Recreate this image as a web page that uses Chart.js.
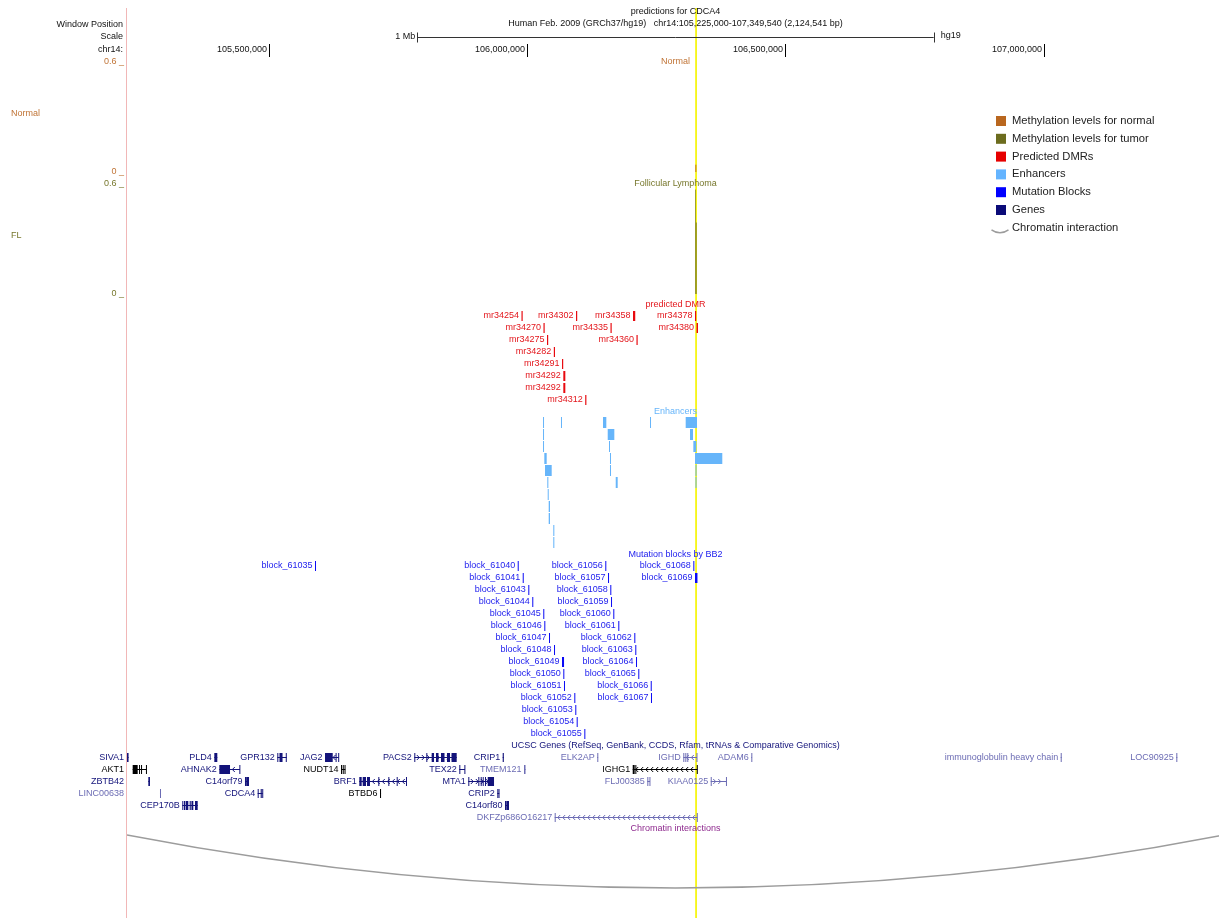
<!DOCTYPE html>
<html>
<head>
<meta charset="utf-8">
<title>predictions for CDCA4</title>
<script src="https://cdn.jsdelivr.net/npm/chart.js@4.4.1/dist/chart.umd.min.js"></script>
<style>
  html, body { margin: 0; padding: 0; background: #ffffff; overflow: hidden; }
  canvas { display: block; }
</style>
</head>
<body>
<canvas id="browser" width="1224" height="918"></canvas>
<script>
// ---- genomic window (chr14, hg19) ----
const WINDOW_START = 105225000;
const WINDOW_END = 107349540;
const rulerTicks = [105500000, 106000000, 106500000, 107000000];
const highlightRegion = [106325300, 106328900];

// ---- methylation levels (beta values, 0..0.6 view range) ----
const normalStarts = [106325800];
const normalEnds = [106327600];
const normalBeta = [0.04];
const flStarts = [106325700, 106326700];
const flEnds = [106326900, 106328100];
const flBeta = [0.57, 0.39];

// ---- predicted DMRs ----
const dmrNames = ['mr34254', 'mr34302', 'mr34358', 'mr34378', 'mr34270', 'mr34335', 'mr34380',
  'mr34275', 'mr34360', 'mr34282', 'mr34291', 'mr34292', 'mr34292', 'mr34312'];
const dmrRows = [0, 0, 0, 0, 1, 1, 1, 2, 2, 3, 4, 5, 6, 7];
const dmrStarts = [105989000, 106094600, 106205000, 106325000, 106031600, 106161400, 106328000,
  106038400, 106211700, 106051600, 106067500, 106070000, 106070000, 106112400];
const dmrEnds = [105991300, 106096900, 106209300, 106327300, 106033900, 106163700, 106330900,
  106040700, 106214000, 106053900, 106069800, 106073900, 106073900, 106114700];

// ---- enhancers ----
const enhRows = [0, 0, 0, 0, 0, 1, 1, 1, 2, 2, 2, 3, 3, 3, 4, 4, 4, 5, 5, 5, 6, 7, 8, 9, 10];
const enhStarts = [106030700, 106065500, 106146900, 106237900, 106307000,
  106030700, 106156000, 106315400,
  106030700, 106158500, 106321800,
  106033200, 106160400, 106325000,
  106034500, 106160400, 106326000,
  106039000, 106171500, 106326000,
  106039800, 106041700, 106041700, 106050600, 106050600];
const enhEnds = [106031900, 106066700, 106153300, 106239100, 106328900,
  106031900, 106168800, 106321200,
  106031900, 106159700, 106327600,
  106037800, 106161600, 106377900,
  106047500, 106161600, 106327200,
  106041000, 106175300, 106327200,
  106041100, 106044200, 106044200, 106052600, 106052600];

// ---- mutation blocks (BB2) ----
const mutNames = ['block_61035', 'block_61040', 'block_61056', 'block_61068',
  'block_61041', 'block_61057', 'block_61069',
  'block_61043', 'block_61058', 'block_61044', 'block_61059',
  'block_61045', 'block_61060', 'block_61046', 'block_61061',
  'block_61047', 'block_61062', 'block_61048', 'block_61063',
  'block_61049', 'block_61064', 'block_61050', 'block_61065',
  'block_61051', 'block_61066', 'block_61052', 'block_61067',
  'block_61053', 'block_61054', 'block_61055'];
const mutRows = [0, 0, 0, 0, 1, 1, 1, 2, 2, 3, 3, 4, 4, 5, 5, 6, 6, 7, 7, 8, 8, 9, 9, 10, 10, 11, 11, 12, 13, 14];
const mutStarts = [105589100, 105981700, 106151300, 106321800,
  105991400, 106156600, 106325000,
  106002200, 106161000, 106009900, 106162400,
  106031200, 106166800, 106033200, 106176500,
  106042300, 106207500, 106052000, 106209400,
  106067500, 106210800, 106070000, 106215200,
  106071300, 106239300, 106091300, 106239800,
  106093200, 106095900, 106110700];
const mutEnds = [105591000, 105983600, 106153200, 106323700,
  105993300, 106158500, 106329800,
  106004100, 106162900, 106011800, 106164300,
  106033100, 106168700, 106035100, 106178400,
  106044200, 106209400, 106053900, 106211300,
  106071400, 106212700, 106071900, 106217100,
  106073200, 106241200, 106093200, 106241700,
  106095100, 106097800, 106112600];

// ---- UCSC genes: status 'pdb' (black), 'refseq' (dark), 'other' (light) ----
const genes = [
  { name: 'SIVA1', row: 0, status: 'refseq', strand: '', start: 105225000, end: 105228000, exons: [[105225000, 105228000]] },
  { name: 'PLD4', row: 0, status: 'refseq', strand: '', start: 105394100, end: 105399900, exons: [[105394100, 105399900]] },
  { name: 'GPR132', row: 0, status: 'refseq', strand: '', start: 105516100, end: 105534300, exons: [[105516100, 105517500], [105520300, 105526200], [105532500, 105534300]] },
  { name: 'JAG2', row: 0, status: 'refseq', strand: '-', start: 105608500, end: 105635000, exons: [[105608500, 105623400], [105629000, 105630500], [105634000, 105635000]] },
  { name: 'PACS2', row: 0, status: 'refseq', strand: '+', start: 105781400, end: 105863500, exons: [[105781400, 105782400], [105804700, 105806000], [105815100, 105819600], [105823400, 105828300], [105833100, 105839900], [105844700, 105850600], [105853500, 105863500]] },
  { name: 'CRIP1', row: 0, status: 'refseq', strand: '', start: 105952600, end: 105954800, exons: [[105952600, 105954800]] },
  { name: 'ELK2AP', row: 0, status: 'other', strand: '', start: 106135800, end: 106137400, exons: [[106135800, 106137400]] },
  { name: 'IGHD', row: 0, status: 'other', strand: '-', start: 106302400, end: 106328900, exons: [[106302400, 106303600], [106306300, 106307500], [106310100, 106311300], [106327900, 106328900]] },
  { name: 'ADAM6', row: 0, status: 'other', strand: '', start: 106434100, end: 106435600, exons: [[106434100, 106435600]] },
  { name: 'immunoglobulin heavy chain', row: 0, status: 'other', strand: '', start: 107033300, end: 107035200, exons: [[107033300, 107035200]] },
  { name: 'LOC90925', row: 0, status: 'other', strand: '', start: 107257200, end: 107259100, exons: [[107257200, 107259100]] },

  { name: 'AKT1', row: 1, status: 'pdb', strand: '', start: 105236000, end: 105263200, exons: [[105236000, 105245700], [105248300, 105250200], [105252200, 105254100], [105261700, 105263200]] },
  { name: 'AHNAK2', row: 1, status: 'refseq', strand: '-', start: 105403800, end: 105443800, exons: [[105403800, 105424500], [105442600, 105443800]] },
  { name: 'NUDT14', row: 1, status: 'pdb', strand: '', start: 105639500, end: 105647800, exons: [[105639500, 105641000], [105642800, 105643900], [105646300, 105647800]] },
  { name: 'TEX22', row: 1, status: 'refseq', strand: '+', start: 105868600, end: 105879600, exons: [[105868600, 105869800], [105878400, 105879600]] },
  { name: 'TMEM121', row: 1, status: 'other', strand: '', start: 105993900, end: 105996800, exons: [[105993900, 105996800]] },
  { name: 'IGHG1', row: 1, status: 'pdb', strand: '-', start: 106204400, end: 106329500, exons: [[106204400, 106208200], [106209500, 106210800], [106328500, 106329500]] },

  { name: 'ZBTB42', row: 2, status: 'refseq', strand: '', start: 105266300, end: 105269500, exons: [[105266300, 105269500]] },
  { name: 'C14orf79', row: 2, status: 'refseq', strand: '', start: 105453500, end: 105461300, exons: [[105453500, 105454500], [105455800, 105461300]] },
  { name: 'BRF1', row: 2, status: 'refseq', strand: '-', start: 105674900, end: 105766700, exons: [[105674900, 105679500], [105681500, 105687900], [105689800, 105695600], [105711700, 105713200], [105731100, 105732600], [105747300, 105748800], [105765300, 105766700]] },
  { name: 'MTA1', row: 2, status: 'refseq', strand: '+', start: 105886000, end: 105935800, exons: [[105886000, 105887000], [105905400, 105906500], [105910000, 105911100], [105913900, 105915000], [105918300, 105919400], [105923600, 105935800]] },
  { name: 'FLJ00385', row: 2, status: 'other', strand: '', start: 106232700, end: 106237900, exons: [[106232700, 106233800], [106236800, 106237900]] },
  { name: 'KIAA0125', row: 2, status: 'other', strand: '+', start: 106355500, end: 106386400, exons: [[106355500, 106357000], [106385000, 106386400]] },

  { name: 'LINC00638', row: 3, status: 'other', strand: '', start: 105288900, end: 105290500, exons: [[105288900, 105290500]] },
  { name: 'CDCA4', row: 3, status: 'refseq', strand: '-', start: 105478100, end: 105487800, exons: [[105478100, 105479100], [105483900, 105486000], [105486900, 105487800]] },
  { name: 'BTBD6', row: 3, status: 'pdb', strand: '', start: 105715000, end: 105717000, exons: [[105715000, 105717000]] },
  { name: 'CRIP2', row: 3, status: 'refseq', strand: '', start: 105942200, end: 105946000, exons: [[105942200, 105943100], [105944500, 105946000]] },

  { name: 'CEP170B', row: 4, status: 'refseq', strand: '', start: 105332100, end: 105361900, exons: [[105332100, 105333200], [105335400, 105337500], [105338600, 105343700], [105346400, 105348500], [105349800, 105353400], [105356700, 105361900]] },
  { name: 'C14orf80', row: 4, status: 'refseq', strand: '', start: 105957100, end: 105964800, exons: [[105957100, 105958000], [105959500, 105964800]] },

  { name: 'DKFZp686O16217', row: 5, status: 'other', strand: '-', start: 106053300, end: 106329500, exons: [[106053300, 106054300], [106328500, 106329500]] }
];

// ---- chromatin interaction (anchor midpoints) ----
const interactionStarts = [105225000];
const interactionEnds = [107349540];

// ---- legend ----
const legendLabels = ['Methylation levels for normal', 'Methylation levels for tumor', 'Predicted DMRs',
  'Enhancers', 'Mutation Blocks', 'Genes', 'Chromatin interaction'];

// ---------------------------------------------------------------------------
// drawing styles and vertical layout (y axis runs in layout units, top = 0)
const COLORS = {
  normal: '#B9671F', normalText: '#C07436',
  tumor: '#6C6C1E', tumorText: '#77772C',
  dmr: '#E8090F', dmrText: '#E3161C',
  enh: '#66B5FA',
  mut: '#0A0AF5', mutText: '#2222EE',
  pdb: '#000000', refseq: '#13137A', other: '#6C6CB4',
  chrom: '#8E2A8E', arc: '#9C9C9C',
  sideLine: '#F1B7B7', highlight: '#F6F61C'
};
const legendColors = [COLORS.normal, COLORS.tumor, '#E60000', '#64B4FF', '#0000FF', '#0B0B78', null];
const FONT = '9px "Liberation Sans", Arial, Helvetica, sans-serif';
const LEGEND_FONT = '11.2px "Liberation Sans", Arial, Helvetica, sans-serif';
const ROW_H = 12;
const LAYOUT = {
  frameTop: 8, frameBottom: 918, labelRight: 124,
  normal: { top: 62, bottom: 172, labelY: 114 },
  fl: { top: 184, bottom: 294, labelY: 236 },
  dmr: { titleY: 305, row0: 316, barH: 10 },
  enh: { titleY: 412, row0: 422.5, barH: 11 },
  mut: { titleY: 555, row0: 566, barH: 10 },
  genes: { titleY: 746, row0: 757, exonH: 9 },
  chrom: { titleY: 829, arcY: 835, depth: 53 },
  methMax: 0.6
};

function floating(starts, ends, rows, row0) {
  return starts.map((s, i) => ({ x: [s, ends[i]], y: row0 + rows[i] * ROW_H }));
}

function text(ctx, s, px, py, color, align, font) {
  ctx.font = font || FONT;
  ctx.fillStyle = color;
  ctx.textAlign = align || 'left';
  ctx.textBaseline = 'middle';
  ctx.fillText(s, px, py);
}

// item label to the left of its feature; falls back to the label margin
function featureLabel(ctx, left, s, startPx, py, color) {
  ctx.font = FONT;
  const w = ctx.measureText(s).width;
  let right = startPx - 2.5;
  if (right - w < left) right = LAYOUT.labelRight;
  text(ctx, s, right, py, color, 'right');
}

function drawMethylation(ctx, xs, ys, starts, ends, beta, track, color) {
  ctx.fillStyle = color;
  starts.forEach((s, i) => {
    const a = xs.getPixelForValue(s), b = xs.getPixelForValue(ends[i]);
    const yv = track.bottom - (beta[i] / LAYOUT.methMax) * (track.bottom - track.top);
    const top = ys.getPixelForValue(yv), base = ys.getPixelForValue(track.bottom);
    ctx.fillRect(a, top, Math.max(0.6, b - a), base - top);
  });
}

function drawGene(ctx, xs, ys, g) {
  const col = COLORS[g.status];
  const x0 = xs.getPixelForValue(g.start), x1 = xs.getPixelForValue(g.end);
  const cy = Math.round(ys.getPixelForValue(LAYOUT.genes.row0 + g.row * ROW_H)) + 0.5;
  ctx.strokeStyle = col; ctx.fillStyle = col; ctx.lineWidth = 1;
  ctx.beginPath(); ctx.moveTo(x0, cy); ctx.lineTo(x1, cy); ctx.stroke();
  if (g.strand) {
    const dir = g.strand === '+' ? 1 : -1;
    ctx.beginPath();
    for (let p = x0 + 4; p < x1 - 2; p += 5) {
      ctx.moveTo(p - dir * 1.5, cy - 2.5);
      ctx.lineTo(p + dir * 1, cy);
      ctx.lineTo(p - dir * 1.5, cy + 2.5);
    }
    ctx.stroke();
  }
  const h = LAYOUT.genes.exonH;
  g.exons.forEach(([s, e]) => {
    const a = xs.getPixelForValue(s), b = xs.getPixelForValue(e);
    ctx.fillRect(a, cy - h / 2, Math.max(1, b - a), h);
  });
  featureLabel(ctx, xs.left, g.name, x0, cy, col);
}

const browserTracks = {
  id: 'browserTracks',
  beforeDatasetsDraw(chart) {
    const { ctx, chartArea, scales: { x: xs, y: ys } } = chart;
    ctx.save();
    const top = ys.getPixelForValue(LAYOUT.frameTop), bottom = ys.getPixelForValue(LAYOUT.frameBottom);
    // highlighted locus
    const h0 = xs.getPixelForValue(highlightRegion[0]), h1 = xs.getPixelForValue(highlightRegion[1]);
    ctx.fillStyle = COLORS.highlight;
    ctx.fillRect(h0, top, h1 - h0, bottom - top);
    // divider between label margin and data area
    ctx.fillStyle = COLORS.sideLine;
    ctx.fillRect(chartArea.left - 1, top, 1, bottom - top);
    // methylation wiggle tracks
    drawMethylation(ctx, xs, ys, normalStarts, normalEnds, normalBeta, LAYOUT.normal, COLORS.normal);
    drawMethylation(ctx, xs, ys, flStarts, flEnds, flBeta, LAYOUT.fl, COLORS.tumor);
    ctx.restore();
  },
  afterDatasetsDraw(chart) {
    const { ctx, chartArea, scales: { x: xs, y: ys } } = chart;
    const cx = (chartArea.left + chartArea.right) / 2;
    const Y = v => ys.getPixelForValue(v);
    ctx.save();

    // header
    text(ctx, 'predictions for CDCA4', cx, Y(12), '#111', 'center');
    text(ctx, 'Human Feb. 2009 (GRCh37/hg19)   chr14:105,225,000-107,349,540 (2,124,541 bp)', cx, Y(24), '#111', 'center');
    text(ctx, 'Window Position', LAYOUT.labelRight - 1, Y(25), '#111', 'right');
    text(ctx, 'Scale', LAYOUT.labelRight - 1, Y(37), '#111', 'right');
    text(ctx, 'chr14:', LAYOUT.labelRight - 1, Y(50), '#111', 'right');

    // 1 Mb scale bar centred on the window
    const mid = (WINDOW_START + WINDOW_END) / 2;
    const b0 = xs.getPixelForValue(mid - 500000), b1 = xs.getPixelForValue(mid + 500000);
    const by = Math.round(Y(37)) + 0.5;
    ctx.strokeStyle = '#333'; ctx.lineWidth = 1;
    ctx.beginPath();
    ctx.moveTo(b0, by); ctx.lineTo(b1, by);
    ctx.moveTo(Math.round(b0) + 0.5, by - 5); ctx.lineTo(Math.round(b0) + 0.5, by + 5);
    ctx.moveTo(Math.round(b1) + 0.5, by - 5); ctx.lineTo(Math.round(b1) + 0.5, by + 5);
    ctx.stroke();
    text(ctx, '1 Mb', b0 - 2, Y(37), '#111', 'right');
    text(ctx, 'hg19', b1 + 7, Y(36), '#111', 'left');

    // base-position ruler
    rulerTicks.forEach(v => {
      const px = Math.round(xs.getPixelForValue(v)) + 0.5;
      ctx.strokeStyle = '#000';
      ctx.beginPath(); ctx.moveTo(px, Y(44)); ctx.lineTo(px, Y(57)); ctx.stroke();
      text(ctx, v.toLocaleString('en-US'), px - 2.5, Y(50), '#111', 'right');
    });

    // methylation track labels and view limits
    const N = LAYOUT.normal, F = LAYOUT.fl;
    text(ctx, '0.6 _', LAYOUT.labelRight, Y(N.top), COLORS.normalText, 'right');
    text(ctx, '0 _', LAYOUT.labelRight, Y(N.bottom), COLORS.normalText, 'right');
    text(ctx, 'Normal', 11, Y(N.labelY), COLORS.normalText, 'left');
    text(ctx, 'Normal', cx, Y(N.top), COLORS.normalText, 'center');
    text(ctx, '0.6 _', LAYOUT.labelRight, Y(F.top), COLORS.tumorText, 'right');
    text(ctx, '0 _', LAYOUT.labelRight, Y(F.bottom), COLORS.tumorText, 'right');
    text(ctx, 'FL', 11, Y(F.labelY), COLORS.tumorText, 'left');
    text(ctx, 'Follicular Lymphoma', cx, Y(F.top), COLORS.tumorText, 'center');

    // DMR labels
    text(ctx, 'predicted DMR', cx, Y(LAYOUT.dmr.titleY), COLORS.dmrText, 'center');
    dmrNames.forEach((n, i) => featureLabel(ctx, chartArea.left, n, xs.getPixelForValue(dmrStarts[i]),
      Y(LAYOUT.dmr.row0 + dmrRows[i] * ROW_H), COLORS.dmrText));

    text(ctx, 'Enhancers', cx, Y(LAYOUT.enh.titleY), COLORS.enh, 'center');

    // mutation block labels
    text(ctx, 'Mutation blocks by BB2', cx, Y(LAYOUT.mut.titleY), COLORS.mutText, 'center');
    mutNames.forEach((n, i) => featureLabel(ctx, chartArea.left, n, xs.getPixelForValue(mutStarts[i]),
      Y(LAYOUT.mut.row0 + mutRows[i] * ROW_H), COLORS.mutText));

    // genes
    text(ctx, 'UCSC Genes (RefSeq, GenBank, CCDS, Rfam, tRNAs & Comparative Genomics)', cx,
      Y(LAYOUT.genes.titleY), COLORS.refseq, 'center');
    genes.forEach(g => drawGene(ctx, xs, ys, g));

    // chromatin interactions
    text(ctx, 'Chromatin interactions', cx, Y(LAYOUT.chrom.titleY), COLORS.chrom, 'center');
    ctx.save();
    ctx.beginPath();
    ctx.rect(chartArea.left, chartArea.top, chartArea.right - chartArea.left, chartArea.bottom - chartArea.top);
    ctx.clip();
    ctx.strokeStyle = COLORS.arc; ctx.lineWidth = 1.4;
    interactionStarts.forEach((s, i) => {
      const a = xs.getPixelForValue(s), b = xs.getPixelForValue(interactionEnds[i]);
      const y0 = Y(LAYOUT.chrom.arcY), yc = Y(LAYOUT.chrom.arcY + 2 * LAYOUT.chrom.depth);
      ctx.beginPath(); ctx.moveTo(a, y0); ctx.quadraticCurveTo((a + b) / 2, yc, b, y0); ctx.stroke();
    });
    ctx.restore();

    // legend
    legendLabels.forEach((lab, i) => {
      const ly = Y(121 + i * 17.8);
      if (legendColors[i]) {
        ctx.fillStyle = legendColors[i];
        ctx.fillRect(996, ly - 5, 10, 10);
      } else {
        ctx.strokeStyle = COLORS.arc; ctx.lineWidth = 1.5;
        ctx.beginPath(); ctx.moveTo(991.5, ly + 2); ctx.quadraticCurveTo(1000, ly + 8, 1008.5, ly + 2); ctx.stroke();
      }
      text(ctx, lab, 1012, ly, '#222', 'left', LEGEND_FONT);
    });
    ctx.restore();
  }
};

new Chart(document.getElementById('browser').getContext('2d'), {
  type: 'bar',
  data: {
    datasets: [
      { label: 'Predicted DMRs', data: floating(dmrStarts, dmrEnds, dmrRows, LAYOUT.dmr.row0),
        backgroundColor: COLORS.dmr, barThickness: LAYOUT.dmr.barH },
      { label: 'Enhancers', data: floating(enhStarts, enhEnds, enhRows, LAYOUT.enh.row0),
        backgroundColor: COLORS.enh, barThickness: LAYOUT.enh.barH },
      { label: 'Mutation Blocks', data: floating(mutStarts, mutEnds, mutRows, LAYOUT.mut.row0),
        backgroundColor: COLORS.mut, barThickness: LAYOUT.mut.barH }
    ]
  },
  options: {
    indexAxis: 'y',
    responsive: false,
    animation: false,
    devicePixelRatio: 1,
    events: [],
    layout: { padding: { left: 127, right: 0, top: 0, bottom: 0 } },
    datasets: { bar: { grouped: false, minBarLength: 1, inflateAmount: 0, borderWidth: 0 } },
    scales: {
      x: { type: 'linear', min: WINDOW_START, max: WINDOW_END, offset: false, display: false },
      y: { type: 'linear', min: 0, max: 918, reverse: true, offset: false, display: false }
    },
    plugins: { legend: { display: false }, tooltip: { enabled: false } }
  },
  plugins: [browserTracks]
});
</script>
</body>
</html>
